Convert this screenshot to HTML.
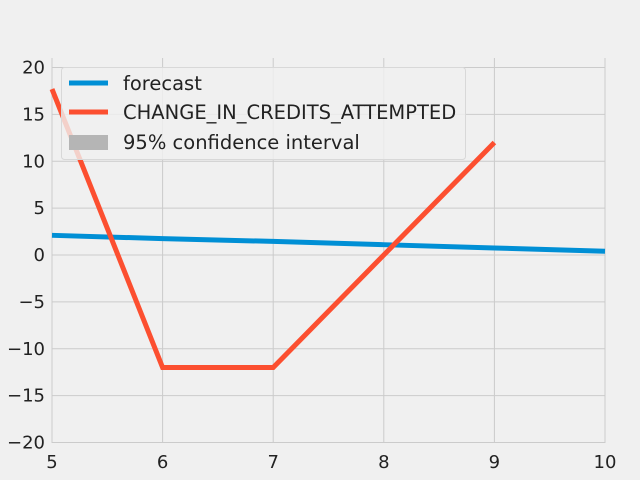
<!DOCTYPE html>
<html><head><meta charset="utf-8"><style>
body{margin:0;background:#f0f0f0}
svg{display:block;font-family:"DejaVu Sans","Liberation Sans",sans-serif}
</style></head><body>
<svg id="chart" width="640" height="480" viewBox="0 0 640 480">
<rect width="640" height="480" fill="#f0f0f0"/>
<g id="grid"></g><g id="ticks"></g><g id="series"></g>
<g>
<rect x="61.5" y="67.5" width="404" height="92" rx="3" fill="#f0f0f0" fill-opacity="0.8" stroke="#d8d8d8"/>
<line x1="69" y1="83" x2="108" y2="83" stroke="#008fd5" stroke-width="5"/>
<text x="123" y="90" font-size="19.5" fill="#222">forecast</text>
<line x1="69" y1="112" x2="108" y2="112" stroke="#fc4f30" stroke-width="5"/>
<text x="123" y="119" font-size="19.5" fill="#222">CHANGE_IN_CREDITS_ATTEMPTED</text>
<rect x="69" y="135" width="39" height="15" fill="#b5b5b5"/>
<text x="123" y="149" font-size="19.5" fill="#222">95% confidence interval</text>
</g>
</svg>
<script>
const xTicks=[5,6,7,8,9,10];
const yTicks=[-20,-15,-10,-5,0,5,10,15,20];
const forecastX=[5,6,7,8,9,10];
const forecastY=[2.1,1.75,1.45,1.1,0.75,0.4];
const actualX=[5,6,7,8,9];
const actualY=[17.7,-12,-12,0,12];
const X=v=>52+(v-5)*110.6;
const Y=v=>255-v*9.375;
const NS='http://www.w3.org/2000/svg';
const g=document.getElementById('grid'),t=document.getElementById('ticks'),s=document.getElementById('series');
function mk(tag,at,p){const e=document.createElementNS(NS,tag);for(const k in at)e.setAttribute(k,at[k]);p.appendChild(e);return e;}
xTicks.forEach(v=>{
 const l=mk('line',{x1:X(v),x2:X(v),y1:58,y2:443,stroke:'#cbcbcb','stroke-width':1},g);
 
 
 const tx=mk('text',{x:X(v),y:468,'font-size':18,'text-anchor':'middle',fill:'#222'},t);
 tx.textContent=v;
 
 
});
yTicks.forEach(v=>{
 const l=mk('line',{x1:52,x2:605,y1:Y(v),y2:Y(v),stroke:'#cbcbcb','stroke-width':1},g);
 
 
 const tx=mk('text',{x:45,y:Y(v)+6,'font-size':18,'text-anchor':'end',fill:'#222'},t);
 tx.textContent=(v<0?'\u2212'+(-v):v);
 
 
});
const f=mk('polyline',{points:forecastX.map((x,i)=>X(x)+','+Y(forecastY[i])).join(' '),fill:'none',stroke:'#008fd5','stroke-width':5},s);


const a=mk('polyline',{points:actualX.map((x,i)=>X(x)+','+Y(actualY[i])).join(' '),fill:'none',stroke:'#fc4f30','stroke-width':5},s);


</script>
</body></html>
